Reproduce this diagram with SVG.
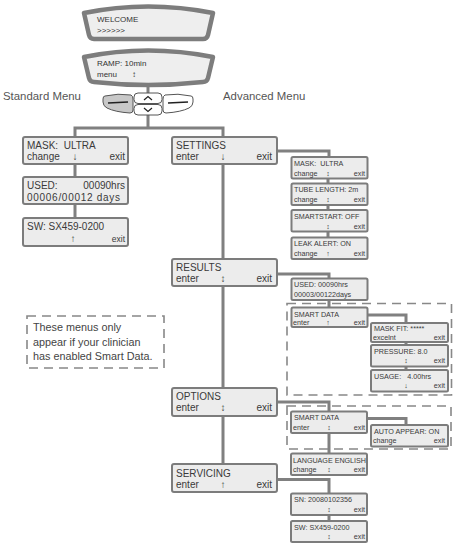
<svg xmlns="http://www.w3.org/2000/svg" width="457" height="550" viewBox="0 0 457 550">
<style>
text{font-family:"Liberation Sans",Arial,sans-serif;fill:#3a3a3a}
.b{font-size:10px}
.s{font-size:7.2px}
.lab{font-size:11.4px;fill:#555}
.note{font-size:10.8px;fill:#444}
.scr{font-size:8px;fill:#333}
.e{text-anchor:end}
.m{text-anchor:middle}
.box{fill:#ececec;stroke:#7c7c7c;stroke-width:2}
.ln{fill:none;stroke:#808080;stroke-width:3}
.dash{fill:none;stroke:#888;stroke-width:1.6;stroke-dasharray:9 6}
.screen{fill:#eeeeee;stroke:#7d7d7d;stroke-width:4.5;stroke-linejoin:round}
.btn{stroke:#555;stroke-width:1}
</style>
<rect width="457" height="550" fill="#fff"/>

<g id="connectors">
  <path class="ln" d="M148,84 V128 M75,137 V128 H223 V137"/>
  <path class="ln" d="M75,164 V177 M75,204 V218"/>
  <path class="ln" d="M223,164 V259 M223,286 V388 M223,416 V464"/>
  <path class="ln" d="M277,151 H329 V157 M328,178 V184 M328,205 V210 M328,231 V238"/>
  <path class="ln" d="M277,274 H329 V279 M329,300 V308 M367,315 H406 V323 M406,342 V345 M406,366 V370"/>
  <path class="ln" d="M277,402 H329 V412 M367,418.5 H406 V425 M329,433 V454"/>
  <path class="ln" d="M277,479.5 H329 V494 M329,515 V521"/>
</g>

<g id="screen-welcome">
  <path class="screen" d="M84,13 Q148,0 213,13 L208,35 Q207,39 203,39 L94,39 Q90,39 89,35 Z"/>
  <text class="scr" x="97" y="22">WELCOME</text>
  <text class="scr" x="97" y="33">&gt;&gt;&gt;&gt;&gt;&gt;</text>
</g>
<g id="screen-ramp">
  <path class="screen" d="M84,57 Q148,44 213,57 L208,78 Q207,82 203,82 Q148,88 94,82 Q90,82 89,78 Z"/>
  <text class="scr" x="97" y="66">RAMP:  10min</text>
  <text class="scr" x="97" y="77">menu</text>
  <text class="scr m" x="134" y="77">↕</text>
</g>

<g id="buttons">
  <path class="btn" fill="#c8c8c8" d="M105,96 Q118,93 131,95 Q133,96 133,99 L133,110 Q133,113 130,113 Q115,112 107,108 Q103,106 103,102 L103,99 Q103,96 105,96 Z"/>
  <path d="M108,103 L128,102" stroke="#222" stroke-width="1.6"/>
  <rect class="btn" fill="#fff" x="134" y="93" width="28" height="10.5" rx="4"/>
  <polyline points="144,100 148,96.5 152,100" fill="none" stroke="#222" stroke-width="1.2"/>
  <rect class="btn" fill="#fff" x="134" y="104.5" width="28" height="10.5" rx="4"/>
  <polyline points="144,108 148,111.5 152,108" fill="none" stroke="#222" stroke-width="1.2"/>
  <path class="btn" fill="#fff" d="M191,96 Q178,93 165,95 Q163,96 163,99 L163,110 Q163,113 166,113 Q181,112 189,108 Q193,106 193,102 L193,99 Q193,96 191,96 Z"/>
  <path d="M168,103 L188,102" stroke="#222" stroke-width="1.6"/>
</g>

<g id="label-standard"><text class="lab" x="3" y="100">Standard Menu</text></g>
<g id="label-advanced"><text class="lab" x="223" y="100">Advanced Menu</text></g>

<g id="std-mask">
  <rect class="box" x="23" y="137" width="105" height="27" rx="2"/>
  <text class="b" x="27" y="148.5" xml:space="preserve">MASK:  ULTRA</text>
  <text class="b" x="27" y="160">change</text>
  <text class="b m" x="75" y="160">↓</text>
  <text class="b e" x="125" y="160">exit</text>
</g>
<g id="std-used">
  <rect class="box" x="23" y="177" width="105" height="27" rx="2"/>
  <text class="b" x="27" y="189">USED:</text>
  <text class="b e" x="125" y="189">00090hrs</text>
  <text class="b" x="27" y="200.5" textLength="93">00006/00012 days</text>
</g>
<g id="std-sw">
  <rect class="box" x="23" y="218" width="105" height="28" rx="2"/>
  <text class="b" x="27" y="229.5">SW: SX459-0200</text>
  <text class="b m" x="73" y="242">↑</text>
  <text class="e" x="125" y="242" font-size="8.5">exit</text>
</g>

<g id="settings">
  <rect class="box" x="172" y="137" width="105" height="27" rx="2"/>
  <text class="b" x="176" y="149">SETTINGS</text>
  <text class="b" x="176" y="160">enter</text>
  <text class="b m" x="223" y="160">↓</text>
  <text class="b e" x="272" y="160">exit</text>
</g>
<g id="results">
  <rect class="box" x="172" y="259" width="105" height="27" rx="2"/>
  <text class="b" x="176" y="271">RESULTS</text>
  <text class="b" x="176" y="282">enter</text>
  <text class="b m" x="223" y="282">↕</text>
  <text class="b e" x="272" y="282">exit</text>
</g>
<g id="options">
  <rect class="box" x="172" y="388" width="105" height="28" rx="2"/>
  <text class="b" x="176" y="400">OPTIONS</text>
  <text class="b" x="176" y="411">enter</text>
  <text class="b m" x="223" y="411">↕</text>
  <text class="b e" x="272" y="411">exit</text>
</g>
<g id="servicing">
  <rect class="box" x="172" y="464" width="105" height="28" rx="2"/>
  <text class="b" x="176" y="477">SERVICING</text>
  <text class="b" x="176" y="488">enter</text>
  <text class="b m" x="223" y="488">↑</text>
  <text class="b e" x="272" y="488">exit</text>
</g>

<g id="set-mask">
  <rect class="box" x="291.5" y="157" width="76" height="21.5" rx="1.5"/>
  <text class="s" x="294" y="166" xml:space="preserve">MASK:  ULTRA</text>
  <text class="s" x="294" y="175.5">change</text>
  <text class="s m" x="328" y="175.5">↕</text>
  <text class="s e" x="365" y="175.5">exit</text>
</g>
<g id="set-tube">
  <rect class="box" x="291.5" y="183.5" width="76" height="21.5" rx="1.5"/>
  <text class="s" x="294" y="192">TUBE LENGTH: 2m</text>
  <text class="s" x="294" y="201.5">change</text>
  <text class="s m" x="328" y="201.5">↕</text>
  <text class="s e" x="365" y="201.5">exit</text>
</g>
<g id="set-smartstart">
  <rect class="box" x="291.5" y="210" width="76" height="21.5" rx="1.5"/>
  <text class="s" x="294" y="218.5">SMARTSTART: OFF</text>
  <text class="s m" x="328" y="228.5">↕</text>
  <text class="s e" x="365" y="228.5">exit</text>
</g>
<g id="set-leak">
  <rect class="box" x="291.5" y="237.5" width="76" height="21.5" rx="1.5"/>
  <text class="s" x="294" y="246">LEAK ALERT: ON</text>
  <text class="s" x="294" y="255.5">change</text>
  <text class="s m" x="328" y="255.5">↑</text>
  <text class="s e" x="365" y="255.5">exit</text>
</g>

<g id="res-used">
  <rect class="box" x="291.5" y="278.5" width="76" height="21.5" rx="1.5"/>
  <text class="s" x="294" y="287">USED: 00090hrs</text>
  <text class="s" x="294" y="296.5">00003/00122days</text>
</g>
<g id="smart-data-note-results">
  <rect class="dash" x="287" y="303.5" width="164.5" height="91.5"/>
</g>
<g id="res-smart">
  <rect class="box" x="291.5" y="307.5" width="76" height="19.5" rx="1.5"/>
  <text class="s" x="294" y="316.5">SMART DATA</text>
  <text class="s" x="293" y="325">enter</text>
  <text class="s m" x="328" y="325">↑</text>
  <text class="s e" x="365" y="325">exit</text>
</g>
<g id="res-maskfit">
  <rect class="box" x="371" y="323" width="77" height="19" rx="1.5"/>
  <text class="s" x="374" y="331">MASK FIT: *****</text>
  <text class="s" x="373" y="339.5">excelnt</text>
  <text class="s e" x="445" y="339.5">exit</text>
</g>
<g id="res-pressure">
  <rect class="box" x="371" y="345" width="77" height="21.5" rx="1.5"/>
  <text class="s" x="374" y="353.5">PRESSURE: 8.0</text>
  <text class="s m" x="406" y="363">↕</text>
  <text class="s e" x="445" y="363">exit</text>
</g>
<g id="res-usage">
  <rect class="box" x="371" y="370" width="77" height="21.5" rx="1.5"/>
  <text class="s" x="374" y="378.5" xml:space="preserve">USAGE:   4.00hrs</text>
  <text class="s m" x="406" y="388">↓</text>
  <text class="s e" x="445" y="388">exit</text>
</g>

<g id="note">
  <rect class="dash" x="27" y="316" width="137" height="52"/>
  <text class="note" x="33" y="331">These menus only</text>
  <text class="note" x="33" y="345.5">appear if your clinician</text>
  <text class="note" x="33" y="360">has enabled Smart Data.</text>
</g>

<g id="smart-data-note-options">
  <rect class="dash" x="287" y="406" width="164" height="43"/>
</g>
<g id="opt-smart">
  <rect class="box" x="291" y="411.5" width="76" height="21.5" rx="1.5"/>
  <text class="s" x="294" y="420">SMART DATA</text>
  <text class="s" x="293" y="429.5">enter</text>
  <text class="s m" x="329" y="429.5">↕</text>
  <text class="s e" x="365" y="429.5">exit</text>
</g>
<g id="opt-auto">
  <rect class="box" x="371" y="425" width="77" height="21.5" rx="1.5"/>
  <text class="s" x="374" y="433.5">AUTO APPEAR: ON</text>
  <text class="s" x="373" y="443">change</text>
  <text class="s e" x="445" y="443">exit</text>
</g>
<g id="opt-language">
  <rect class="box" x="291" y="453.5" width="76" height="21.5" rx="1.5"/>
  <text class="s" x="293" y="462.5" textLength="73">LANGUAGE ENGLISH</text>
  <text class="s" x="293" y="472">change</text>
  <text class="s m" x="329" y="472">↕</text>
  <text class="s e" x="365" y="472">exit</text>
</g>

<g id="srv-sn">
  <rect class="box" x="291" y="493.5" width="76" height="21.5" rx="1.5"/>
  <text class="s" x="294" y="502">SN: 20080102356</text>
  <text class="s m" x="329" y="511.5">↕</text>
  <text class="s e" x="365" y="511.5">exit</text>
</g>
<g id="srv-sw">
  <rect class="box" x="291" y="521" width="76" height="21" rx="1.5"/>
  <text class="s" x="294" y="529.5">SW: SX459-0200</text>
  <text class="s m" x="329" y="538.5">↕</text>
  <text class="s e" x="365" y="538.5">exit</text>
</g>
</svg>
